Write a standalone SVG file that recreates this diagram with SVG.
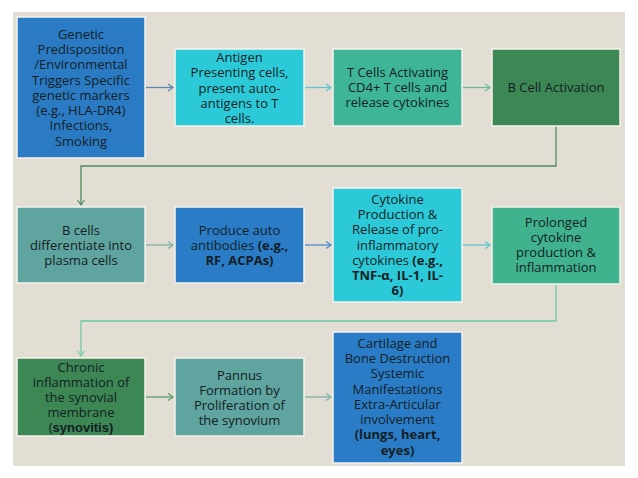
<svg xmlns="http://www.w3.org/2000/svg" width="638" height="478" viewBox="0 0 638 478">
<defs>
<style>
.b{stroke:#f4f2ec;stroke-width:1.5}
.t{font-family:"Open Sans","Noto Sans","DejaVu Sans",sans-serif;font-size:13px;fill:#141e25;text-anchor:middle}
.bd{font-weight:bold}
.c{fill:none;stroke-width:1.3}
</style>
<marker id="mBlue" markerWidth="10" markerHeight="10" refX="7" refY="5" orient="auto" markerUnits="userSpaceOnUse"><path d="M2,1.5 L7,5 L2,8.5" fill="none" stroke="#5d86b0" stroke-width="1.2"/></marker>
<marker id="mCyan" markerWidth="10" markerHeight="10" refX="7" refY="5" orient="auto" markerUnits="userSpaceOnUse"><path d="M2,1.5 L7,5 L2,8.5" fill="none" stroke="#5cc4cf" stroke-width="1.2"/></marker>
<marker id="mTeal" markerWidth="10" markerHeight="10" refX="7" refY="5" orient="auto" markerUnits="userSpaceOnUse"><path d="M2,1.5 L7,5 L2,8.5" fill="none" stroke="#6db89c" stroke-width="1.2"/></marker>
<marker id="mGreen" markerWidth="10" markerHeight="10" refX="7" refY="5" orient="auto" markerUnits="userSpaceOnUse"><path d="M2,1.5 L7,5 L2,8.5" fill="none" stroke="#4e8a5e" stroke-width="1.2"/></marker>
<marker id="mSage" markerWidth="10" markerHeight="10" refX="7" refY="5" orient="auto" markerUnits="userSpaceOnUse"><path d="M2,1.5 L7,5 L2,8.5" fill="none" stroke="#7fb0aa" stroke-width="1.2"/></marker>
<marker id="mBlue2" markerWidth="10" markerHeight="10" refX="7" refY="5" orient="auto" markerUnits="userSpaceOnUse"><path d="M2,1.5 L7,5 L2,8.5" fill="none" stroke="#4a8cc8" stroke-width="1.2"/></marker>
<marker id="mMint" markerWidth="10" markerHeight="10" refX="7" refY="5" orient="auto" markerUnits="userSpaceOnUse"><path d="M2,1.5 L7,5 L2,8.5" fill="none" stroke="#6fc8a6" stroke-width="1.2"/></marker>
<marker id="mDk" markerWidth="10" markerHeight="10" refX="7" refY="5" orient="auto" markerUnits="userSpaceOnUse"><path d="M2,1.5 L7,5 L2,8.5" fill="none" stroke="#5a9a6b" stroke-width="1.2"/></marker>
</defs>
<rect x="0" y="0" width="638" height="478" fill="#ffffff"/>
<rect x="13" y="12" width="612" height="454" fill="#e3ded4"/>

<g id="connectors">
<path class="c" stroke="#5d86b0" d="M146 87.5 H173" marker-end="url(#mBlue)"/>
<path class="c" stroke="#5cc4cf" d="M305 87.5 H331" marker-end="url(#mCyan)"/>
<path class="c" stroke="#6db89c" d="M463 87.5 H490" marker-end="url(#mTeal)"/>
<path class="c" stroke="#4e8a5e" d="M556 126 V166 H81 V205" marker-end="url(#mGreen)"/>
<path class="c" stroke="#7fb0aa" d="M146 245 H173" marker-end="url(#mSage)"/>
<path class="c" stroke="#4a8cc8" d="M305 245 H331" marker-end="url(#mBlue2)"/>
<path class="c" stroke="#5cc4cf" d="M463 245 H490" marker-end="url(#mCyan)"/>
<path class="c" stroke="#6fc8a6" d="M556 284 V321 H81 V356" marker-end="url(#mMint)"/>
<path class="c" stroke="#5a9a6b" d="M146 397 H173" marker-end="url(#mDk)"/>
<path class="c" stroke="#7fb0aa" d="M305 397 H331" marker-end="url(#mSage)"/>
</g>

<g id="n1">
<rect class="b" x="17" y="17" width="128" height="141" fill="#2a7bc4"/>
<text class="t"><tspan x="81" y="39">Genetic</tspan><tspan x="81" y="54">Predisposition</tspan><tspan x="81" y="69">/Environmental</tspan><tspan x="81" y="85">Triggers Specific</tspan><tspan x="81" y="100">genetic markers</tspan><tspan x="81" y="115">(e.g., HLA-DR4)</tspan><tspan x="81" y="130">Infections,</tspan><tspan x="81" y="146">Smoking</tspan></text>
</g>
<g id="n2">
<rect class="b" x="175" y="49" width="129" height="77" fill="#2ccad9"/>
<text class="t"><tspan x="239.5" y="62">Antigen</tspan><tspan x="239.5" y="77">Presenting cells,</tspan><tspan x="239.5" y="93">present auto-</tspan><tspan x="239.5" y="108">antigens to T</tspan><tspan x="239.5" y="123">cells.</tspan></text>
</g>
<g id="n3">
<rect class="b" x="333" y="49" width="129" height="77" fill="#3db596"/>
<text class="t"><tspan x="397.5" y="77">T Cells Activating</tspan><tspan x="397.5" y="92">CD4+ T cells and</tspan><tspan x="397.5" y="107">release cytokines</tspan></text>
</g>
<g id="n4">
<rect class="b" x="492" y="49" width="128" height="77" fill="#3c8753"/>
<text class="t"><tspan x="556" y="92">B Cell Activation</tspan></text>
</g>

<g id="n5">
<rect class="b" x="17" y="207" width="128" height="76" fill="#5fa49e"/>
<text class="t"><tspan x="81" y="235">B cells</tspan><tspan x="81" y="250">differentiate into</tspan><tspan x="81" y="265">plasma cells</tspan></text>
</g>
<g id="n6">
<rect class="b" x="175" y="207" width="129" height="76" fill="#2a7cc6"/>
<text class="t"><tspan x="239.5" y="235">Produce auto</tspan><tspan x="239.5" y="250">antibodies <tspan class="bd">(e.g.,</tspan></tspan><tspan x="239.5" y="265" class="bd">RF, ACPAs)</tspan></text>
</g>
<g id="n7">
<rect class="b" x="333" y="188" width="129" height="114" fill="#2ccad9"/>
<text class="t"><tspan x="397.5" y="204">Cytokine</tspan><tspan x="397.5" y="219">Production &amp;</tspan><tspan x="397.5" y="234">Release of pro-</tspan><tspan x="397.5" y="250">inflammatory</tspan><tspan x="397.5" y="265">cytokines <tspan class="bd">(e.g.,</tspan></tspan><tspan x="397.5" y="280" class="bd">TNF-α, IL-1, IL-</tspan><tspan x="397.5" y="295" class="bd">6)</tspan></text>
</g>
<g id="n8">
<rect class="b" x="492" y="207" width="128" height="77" fill="#40b28e"/>
<text class="t"><tspan x="556" y="227">Prolonged</tspan><tspan x="556" y="242">cytokine</tspan><tspan x="556" y="257">production &amp;</tspan><tspan x="556" y="272">inflammation</tspan></text>
</g>

<g id="n9">
<rect class="b" x="17" y="358" width="128" height="78" fill="#3c8753"/>
<text class="t"><tspan x="81" y="372">Chronic</tspan><tspan x="81" y="387">inflammation of</tspan><tspan x="81" y="402">the synovial</tspan><tspan x="81" y="417">membrane</tspan><tspan x="81" y="432">(<tspan style="font-family:'Liberation Sans',Arial,sans-serif;font-weight:bold">synovitis)</tspan></tspan></text>
</g>
<g id="n10">
<rect class="b" x="175" y="358" width="129" height="78" fill="#5fa49e"/>
<text class="t"><tspan x="239.5" y="380">Pannus</tspan><tspan x="239.5" y="395">Formation by</tspan><tspan x="239.5" y="410">Proliferation of</tspan><tspan x="239.5" y="425">the synovium</tspan></text>
</g>
<g id="n11">
<rect class="b" x="333" y="332" width="129" height="131" fill="#2a7cc6"/>
<text class="t"><tspan x="397.5" y="348">Cartilage and</tspan><tspan x="397.5" y="363">Bone Destruction</tspan><tspan x="397.5" y="378">Systemic</tspan><tspan x="397.5" y="394">Manifestations</tspan><tspan x="397.5" y="409">Extra-Articular</tspan><tspan x="397.5" y="424">involvement</tspan><tspan x="397.5" y="439" class="bd">(lungs, heart,</tspan><tspan x="397.5" y="455" class="bd">eyes)</tspan></text>
</g>
</svg>
